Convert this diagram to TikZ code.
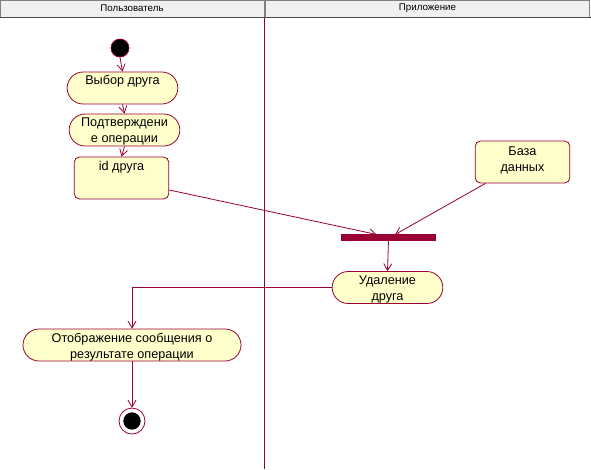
\documentclass[tikz,border=0pt]{standalone}
\usepackage{fontspec}
\setmainfont{Liberation Sans}
\usetikzlibrary{arrows.meta}
\definecolor{rosered}{HTML}{990033}
\definecolor{roseyellow}{HTML}{FFFFCC}
\definecolor{headgray}{HTML}{F0F0F0}

\begin{document}
\begin{tikzpicture}[x=0.75pt, y=-0.75pt, line width=0.6pt,
    activity/.style={draw=rosered, fill=roseyellow, minimum width=#1, minimum height=24pt, rounded corners=12pt, inner sep=0pt},
    object/.style={draw=rosered, fill=roseyellow, minimum width=71pt, minimum height=31.5pt, rounded corners=4pt, inner sep=0pt},
    txt/.style={font=\fontsize{9.5}{12}\selectfont, align=center, inner sep=0pt},
    lane/.style={draw=gray, fill=headgray, minimum height=12.75pt, inner sep=0pt, font=\fontsize{7.3}{8}\selectfont},
    flow/.style={-{Straight Barb[length=5pt,width=6pt]}, draw=rosered}
]
    \useasboundingbox (0,0) rectangle (591,469);
    \fill[white] (0,0) rectangle (591,469);

    % Swimlanes
    \node[lane, minimum width=198pt] (userlane) at (132,8.5) {Пользователь};
    \node[lane, minimum width=243.5pt] (applane) at (427.5,8.5) {Приложение};
    \draw[gray!60!black, line width=1pt] (0,17.5) -- (591,17.5);
    \draw[rosered] (264,18) -- (264,469);

    % Start
    \node[circle, draw=rosered, fill=black, minimum size=13.5pt, inner sep=0pt] (start) at (120,48) {};

    % Activities of the user
    \node[activity=83pt] (choose) at (122.5,88) {};
    \node[txt] (choosetxt) at (122.5,81) {Выбор друга};
    \node[activity=83pt] (confirm) at (124.5,130) {};
    \node[txt] (confirmtxt) at (124.5,131) {Подтверждени\\е операции};
    \node[object] (friendid) at (121.5,178) {};
    \node[txt] (friendidtxt) at (121.5,167) {id друга};

    % Application side
    \node[object] (db) at (522.5,162) {};
    \node[txt] (dbtxt) at (522.5,160) {База\\данных};
    \node[draw=rosered, fill=rosered, minimum width=71pt, minimum height=4pt, inner sep=0pt] (join) at (388.5,237.5) {};
    \node[activity=83pt] (remove) at (387.5,287.5) {};
    \node[txt] (removetxt) at (387.5,289) {Удаление\\друга};

    % Result
    \node[activity=163.5pt] (result) at (132,345) {};
    \node[txt] (resulttxt) at (132,347) {Отображение сообщения о\\результате операции};

    % End
    \node[circle, draw=rosered, fill=white, minimum size=19.5pt, inner sep=0pt] (final) at (132,421) {};
    \node[circle, fill=black, minimum size=13pt, inner sep=0pt] (finaldot) at (final.center) {};

    % Flows
    \draw[flow] (start.south) -- (choose.north);
    \draw[flow] (choose.south) -- (confirm.north);
    \draw[flow] (confirm.south) -- (friendid.north);
    \draw[flow] ([yshift=-9pt]friendid.east) -- ([xshift=-9pt]join.north);
    \draw[flow] ([xshift=8pt]db.south west) -- ([xshift=5pt]join.north);
    \draw[flow] (join.south) -- (remove.north);
    \draw[flow] (remove.west) -| (result.north);
    \draw[flow] (result.south) -- (final.north);
\end{tikzpicture}
\end{document}
